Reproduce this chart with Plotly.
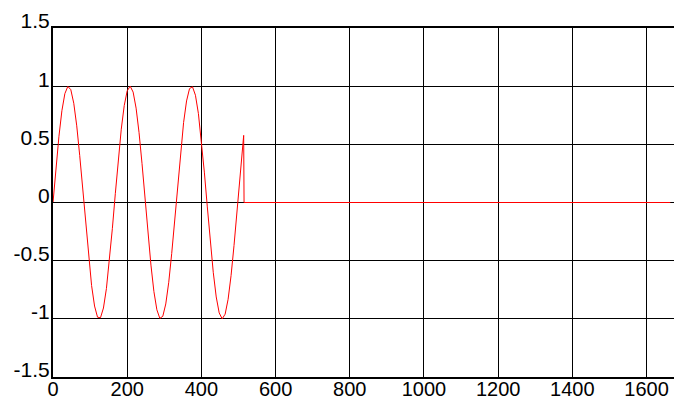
import plotly.graph_objects as go

# sample index (x) and signal amplitude (y)
sample_index = [0, 8, 16, 24, 32, 40, 48, 56, 64, 72, 80, 88, 96, 104, 112, 120,
                128, 136, 144, 152, 160, 168, 176, 184, 192, 200, 208, 216, 224, 232,
                240, 248, 256, 264, 272, 280, 288, 296, 304, 312, 320, 328, 336, 344,
                352, 360, 368, 376, 384, 392, 400, 408, 416, 424, 432, 440, 448, 456,
                464, 472, 480, 488, 496, 504, 512, 514, 515, 1664]
amplitude = [0.0, 0.298, 0.569, 0.789, 0.936, 0.998, 0.970, 0.853, 0.659, 0.404,
             0.113, -0.188, -0.473, -0.714, -0.890, -0.986, -0.991, -0.907, -0.740,
             -0.505, -0.225, 0.076, 0.370, 0.630, 0.833, 0.960, 1.000, 0.949, 0.811,
             0.600, 0.334, 0.038, -0.262, -0.538, -0.765, -0.922, -0.996, -0.978,
             -0.872, -0.686, -0.438, -0.150, 0.151, 0.439, 0.687, 0.873, 0.979, 0.995,
             0.922, 0.764, 0.537, 0.261, -0.038, -0.335, -0.600, -0.812, -0.949,
             -1.000, -0.960, -0.832, -0.629, -0.369, -0.075, 0.226, 0.506, 0.577,
             0.0, 0.0]

x_ticks = [0, 200, 400, 600, 800, 1000, 1200, 1400, 1600]
x_tick_labels = ["0", "200", "400", "600", "800", "1000", "1200", "1400", "1600"]
y_ticks = [-1.5, -1, -0.5, 0, 0.5, 1, 1.5]
y_tick_labels = ["-1.5", "-1", "-0.5", "0", "0.5", "1", "1.5"]
x_range = [0, 1674]
y_range = [-1.5, 1.5]

fig = go.Figure()
fig.add_trace(go.Scatter(x=sample_index, y=amplitude, mode="lines",
                         line=dict(color="#ff0000", width=1), showlegend=False))

font = dict(family="Liberation Sans, Arial, sans-serif", size=20, color="black")
yfont = dict(family="Liberation Sans, Arial, sans-serif", size=21, color="black")

fig.update_layout(
    width=674, height=401,
    margin=dict(l=53, r=0, t=28, b=24, pad=0, autoexpand=False),
    paper_bgcolor="white", plot_bgcolor="white",
    font=font,
)
fig.update_xaxes(
    range=x_range, tickvals=x_ticks, ticktext=x_tick_labels,
    showgrid=True, gridcolor="black", gridwidth=1,
    showline=True, linecolor="black", linewidth=2, mirror=True,
    ticks="inside", ticklen=5, tickcolor="black",
    zeroline=False, tickfont=font, ticklabelstandoff=-7, automargin=False,
)
fig.update_yaxes(
    range=y_range, tickvals=y_ticks, ticktext=y_tick_labels,
    showgrid=True, gridcolor="black", gridwidth=1,
    showline=True, linecolor="black", linewidth=2, mirror=False,
    ticks="inside", ticklen=5, tickcolor="black",
    zeroline=False, tickfont=yfont, ticklabelshift=-7, ticklabelstandoff=-3,
    automargin=False,
)

fig.write_html("out.html",
               config={"displayModeBar": False},
               post_script="document.body.style.margin='0';"
                           "document.body.style.overflow='hidden';")
